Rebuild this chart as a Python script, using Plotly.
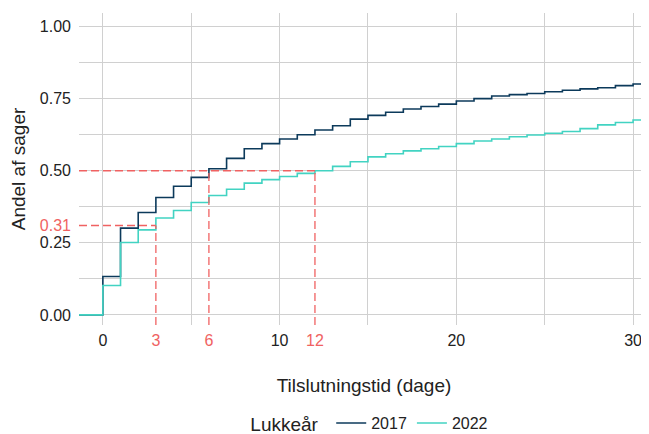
import plotly.graph_objects as go

# ---- data ----
days = list(range(0, 31))
share_2017 = [0.133, 0.301, 0.355, 0.407, 0.446, 0.477, 0.507, 0.543, 0.576, 0.594,
              0.610, 0.625, 0.641, 0.656, 0.679, 0.692, 0.703, 0.714, 0.723, 0.731,
              0.742, 0.750, 0.759, 0.764, 0.768, 0.774, 0.779, 0.784, 0.788, 0.795, 0.801]
share_2022 = [0.102, 0.251, 0.295, 0.336, 0.362, 0.390, 0.414, 0.436, 0.457, 0.469,
              0.480, 0.491, 0.500, 0.515, 0.531, 0.548, 0.559, 0.569, 0.576, 0.584,
              0.594, 0.603, 0.610, 0.618, 0.624, 0.630, 0.636, 0.646, 0.659, 0.667, 0.676]
series_names = ["2017", "2022"]
series_colors = ["#0c3a5b", "#42d3c2"]

ref_days = [3, 6, 12]
ref_levels = [0.31, 0.50, 0.50]
ref_y_ticks = [0.31]

x_ticks = [0, 10, 20, 30]
x_minor = [5, 15, 25]
y_ticks = [0, 0.25, 0.50, 0.75, 1.00]
y_tick_labels = ["0.00", "0.25", "0.50", "0.75", "1.00"]
y_minor = [0.125, 0.375, 0.625, 0.875]

x_range = [-1.35, 30.9]
y_range = [-0.035, 1.047]

RED = "#f06262"
GRID = "#d0d0d0"
FONT = "Liberation Sans, Arial, sans-serif"
FS = 16

fig = go.Figure()

# reference dashed lines (on overlay axes)
for d, lvl in zip(ref_days, ref_levels):
    fig.add_trace(go.Scatter(x=[d, d], y=[y_range[0], lvl], mode="lines",
                             line=dict(color=RED, width=1.3, dash="8px,4px"),
                             xaxis="x2", yaxis="y2", showlegend=False, hoverinfo="skip"))
for lvl in sorted(set(ref_levels)):
    xmax = max(d for d, l in zip(ref_days, ref_levels) if l == lvl)
    fig.add_trace(go.Scatter(x=[x_range[0], xmax], y=[lvl, lvl], mode="lines",
                             line=dict(color=RED, width=1.3, dash="8px,4px"),
                             xaxis="x2", yaxis="y2", showlegend=False, hoverinfo="skip"))

for name, vals, col in zip(series_names, [share_2017, share_2022], series_colors):
    xs = [x_range[0] - 1] + days + [x_range[1] + 1]
    ys = [0] + vals + [vals[-1]]
    fig.add_trace(go.Scatter(x=xs, y=ys, mode="lines", line_shape="hv",
                             line=dict(color=col, width=1.6), name=name))

# page body has an 8px margin, so the figure is 8px smaller and margins shifted
fig.update_layout(
    width=641, height=426,
    margin=dict(l=71, r=0, t=5, b=109, autoexpand=False),
    paper_bgcolor="white", plot_bgcolor="white",
    font=dict(family=FONT, size=FS, color="#222222"),
    xaxis=dict(range=x_range, tickvals=x_ticks, showgrid=True, gridcolor=GRID, gridwidth=1,
               minor=dict(tickvals=x_minor, showgrid=True, gridcolor=GRID, gridwidth=1),
               zeroline=False, showline=False, ticks="", automargin=False,
               ticklabelstandoff=4,
               title=dict(text="Tilslutningstid (dage)", standoff=30),
               tickfont=dict(size=FS, color="#222222")),
    xaxis2=dict(range=x_range, overlaying="x", anchor="y", side="bottom", automargin=False,
                tickvals=ref_days, ticktext=[str(d) for d in ref_days],
                ticklabelstandoff=4,
                tickfont=dict(size=FS, color=RED), showgrid=False, zeroline=False, ticks=""),
    yaxis=dict(range=y_range, tickvals=y_ticks, ticktext=y_tick_labels, showgrid=True,
               gridcolor=GRID, gridwidth=1, automargin=False,
               minor=dict(tickvals=y_minor, showgrid=True, gridcolor=GRID, gridwidth=1),
               zeroline=False, showline=False, ticks="", ticklabelstandoff=7,
               title=dict(text="Andel af sager", standoff=10),
               tickfont=dict(size=FS, color="#222222")),
    yaxis2=dict(range=y_range, overlaying="y", anchor="x", side="left", automargin=False,
                tickvals=ref_y_ticks, ticktext=[f"{v:.2f}" for v in ref_y_ticks],
                ticklabelstandoff=7,
                tickfont=dict(size=FS, color=RED), showgrid=False, zeroline=False, ticks=""),
    legend=dict(orientation="h", x=0.512, xanchor="center", y=-0.316, yanchor="middle",
                title=dict(text="Lukkeår ", side="left"),
                font=dict(size=FS), itemwidth=30),
    showlegend=True,
)

fig.write_html("out.html")
